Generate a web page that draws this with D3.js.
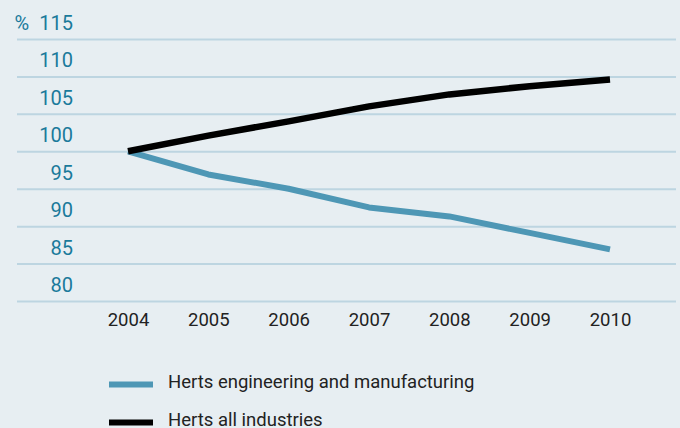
<!DOCTYPE html>
<html>
<head>
<meta charset="utf-8">
<script src="https://cdn.jsdelivr.net/npm/d3@7"></script>
<style>
  html, body { margin: 0; padding: 0; background: #e7eef2; }
  svg { display: block; }
  text { font-family: Roboto, "Liberation Sans", Arial, sans-serif; font-weight: 400; }
</style>
</head>
<body>
<svg id="chart" width="680" height="428"></svg>
<script>
const years = [2004, 2005, 2006, 2007, 2008, 2009, 2010];
const engineering = [100, 96.9, 95.0, 92.5, 91.3, 89.1, 86.9];
const allIndustries = [100, 102.1, 104.0, 106.0, 107.6, 108.7, 109.6];
const yTicks = [80, 85, 90, 95, 100, 105, 110, 115];
const seriesNames = ["Herts engineering and manufacturing", "Herts all industries"];
const seriesColors = ["#4e97b5", "#000000"];

const svg = d3.select("#chart");
svg.append("rect").attr("width", 680).attr("height", 428).attr("fill", "#e7eef2");

const x = d3.scaleLinear().domain([2004, 2010]).range([128, 610]);
const y = d3.scaleLinear().domain([80, 115]).range([301, 39]);

const gridLeft = 17, gridRight = 676;

// Y axis with gridlines
const yAxis = d3.axisRight(y)
  .tickValues(yTicks)
  .tickSize(gridRight - gridLeft)
  .tickFormat(d => d === 115 ? "%\u2002115" : String(d));
const gy = svg.append("g").attr("transform", `translate(${gridLeft},0)`).call(yAxis);
gy.select(".domain").remove();
gy.selectAll(".tick line").attr("stroke", "#bdd5e1").attr("stroke-width", 2);
gy.selectAll(".tick text")
  .attr("x", 56).attr("dy", null).attr("y", -9.5)
  .attr("text-anchor", "end")
  .attr("fill", "#1a7a9b")
  .attr("font-size", 20);

// X axis
const xAxis = d3.axisBottom(x).tickValues(years).tickSize(0).tickFormat(d3.format("d"));
const gx = svg.append("g").attr("transform", `translate(0,${y(80)})`).call(xAxis);
gx.select(".domain").remove();
gx.selectAll(".tick text")
  .attr("y", 25).attr("dy", null)
  .attr("fill", "#222")
  .attr("font-size", 18.5);

// Lines
const line = d3.line().x((d, i) => x(years[i])).y(d => y(d));
const data = [engineering, allIndustries];
data.forEach((vals, k) => {
  svg.append("path")
    .datum(vals)
    .attr("d", line)
    .attr("fill", "none")
    .attr("stroke", seriesColors[k])
    .attr("stroke-width", k === 1 ? 6.5 : 6)
    .attr("stroke-linejoin", "round");
});

// Legend
const legY = [384.5, 422.5];
seriesNames.forEach((name, k) => {
  svg.append("line")
    .attr("x1", 109).attr("x2", 153)
    .attr("y1", legY[k]).attr("y2", legY[k])
    .attr("stroke", seriesColors[k]).attr("stroke-width", 6);
  svg.append("text")
    .attr("x", 168).attr("y", legY[k] + 3.5)
    .attr("fill", "#222")
    .attr("font-size", 18.5)
    .text(name);
});
</script>
</body>
</html>
